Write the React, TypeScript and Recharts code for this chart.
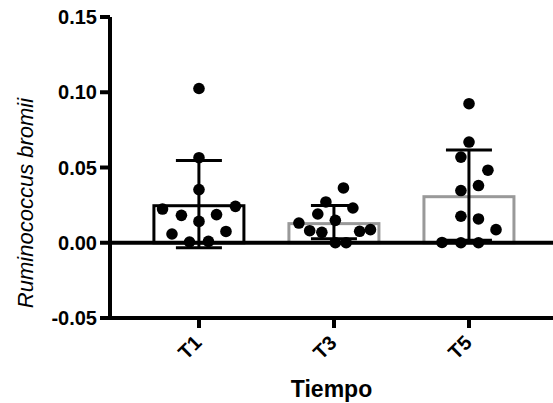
import React from 'react';
import { ComposedChart, Bar, ErrorBar, Scatter, XAxis, YAxis, ReferenceLine, Label } from 'recharts';

const groups = ['T1', 'T3', 'T5'];
const means = [0.0256, 0.0137, 0.0316];
const sds = [0.029, 0.011, 0.03];
const barColors = ['#000000', '#999999', '#999999'];
const yTicks = [-0.05, 0, 0.05, 0.1, 0.15];

// individual samples per time point, with horizontal jitter (category units)
const t1Values = [0.1025, 0.0565, 0.0353, 0.0224, 0.0242, 0.0182, 0.0187, 0.0142, 0.0075, 0.0058, 0.0005, 0.0009];
const t1Jitter = [0, 0, 0, -0.27, 0.27, -0.13, 0.13, 0, 0.2, -0.2, -0.07, 0.07];
const t3Values = [0.0364, 0.0271, 0.0231, 0.0191, 0.0149, 0.0131, 0.008, 0.0069, 0.0076, 0.0087, 0, 0];
const t3Jitter = [0.07, -0.06, 0.14, -0.12, 0.01, -0.26, -0.18, -0.09, 0.19, 0.27, 0.01, 0.09];
const t5Values = [0.0924, 0.0669, 0.0569, 0.0482, 0.038, 0.0347, 0.0176, 0.0158, 0.0087, 0.0002, 0, 0];
const t5Jitter = [0, 0, -0.06, 0.14, 0.07, -0.06, -0.06, 0.07, 0.2, -0.2, -0.06, 0.07];

const font = '"Liberation Sans", Arial, sans-serif';

const barData = groups.map((g, i) => ({ x: i + 1, name: g, mean: means[i], sd: sds[i] }));

const points = [t1Values, t3Values, t5Values].flatMap((vals, gi) => {
  const jit = [t1Jitter, t3Jitter, t5Jitter][gi];
  return vals.map((v, k) => ({ x: gi + 1 + jit[k], y: v }));
});

const XTick = ({ x, y, payload }: any) => {
  const ax = x + 4;
  const ay = y + 14;
  return (
    <text
      x={ax}
      y={ay}
      transform={`rotate(-45, ${ax}, ${ay})`}
      textAnchor="end"
      fontSize={20}
      fontWeight="bold"
      fontFamily={font}
      fill="#000"
    >
      {groups[Math.round(payload.value) - 1]}
    </text>
  );
};

const Dot = (props: any) => <circle cx={props.cx} cy={props.cy} r={5.8} fill="#000" />;

// bar border is drawn inside the box, like the original plot
const BarBox = (props: any) => {
  const w = 93;
  const sw = 3;
  const cx = props.x + props.width / 2;
  return (
    <rect
      x={cx - w / 2 + sw / 2}
      y={props.y + sw / 2}
      width={w - sw}
      height={Math.max(props.height - sw / 2, 0)}
      fill="#fff"
      stroke={barColors[props.index]}
      strokeWidth={sw}
    />
  );
};

const YLabel = () => (
  <text
    x={33}
    y={203}
    transform="rotate(-90, 33, 203)"
    textAnchor="middle"
    fontSize={22}
    fontStyle="italic"
    fontFamily={font}
    fill="#000"
  >
    Ruminococcus bromii
  </text>
);

export default function App() {
  return (
    <div style={{ position: 'absolute', left: 0, top: 0, fontFamily: font }}>
      <ComposedChart width={553} height={403} data={barData} margin={{ top: 17, right: 0, bottom: 0, left: 0 }}>
        <XAxis
          type="number"
          dataKey="x"
          domain={[0.341, 3.622]}
          ticks={[1, 2, 3]}
          allowDataOverflow
          height={85}
          tickSize={10}
          tick={<XTick />}
          axisLine={{ stroke: '#000', strokeWidth: 4 }}
          tickLine={{ stroke: '#000', strokeWidth: 4 }}
        >
          <Label
            value="Tiempo"
            position="insideBottom"
            offset={6}
            style={{ fontSize: 23, fontWeight: 'bold', fontFamily: font, fill: '#000' }}
          />
        </XAxis>
        <YAxis
          type="number"
          width={110}
          domain={[-0.05, 0.15]}
          ticks={yTicks}
          tickFormatter={(v: number) => v.toFixed(2)}
          tickSize={10}
          tickMargin={3}
          tick={{ fontSize: 20, fontWeight: 'bold', fontFamily: font, fill: '#000' }}
          axisLine={{ stroke: '#000', strokeWidth: 4 }}
          tickLine={{ stroke: '#000', strokeWidth: 4 }}
        >
          <Label content={<YLabel />} />
        </YAxis>
        <Bar dataKey="mean" barSize={90} shape={<BarBox />} isAnimationActive={false}>
          <ErrorBar dataKey="sd" direction="y" width={23} stroke="#000" strokeWidth={3} />
        </Bar>
        <ReferenceLine y={0} stroke="#000" strokeWidth={4} />
        <Scatter data={points} dataKey="y" shape={<Dot />} isAnimationActive={false} />
      </ComposedChart>
    </div>
  );
}
